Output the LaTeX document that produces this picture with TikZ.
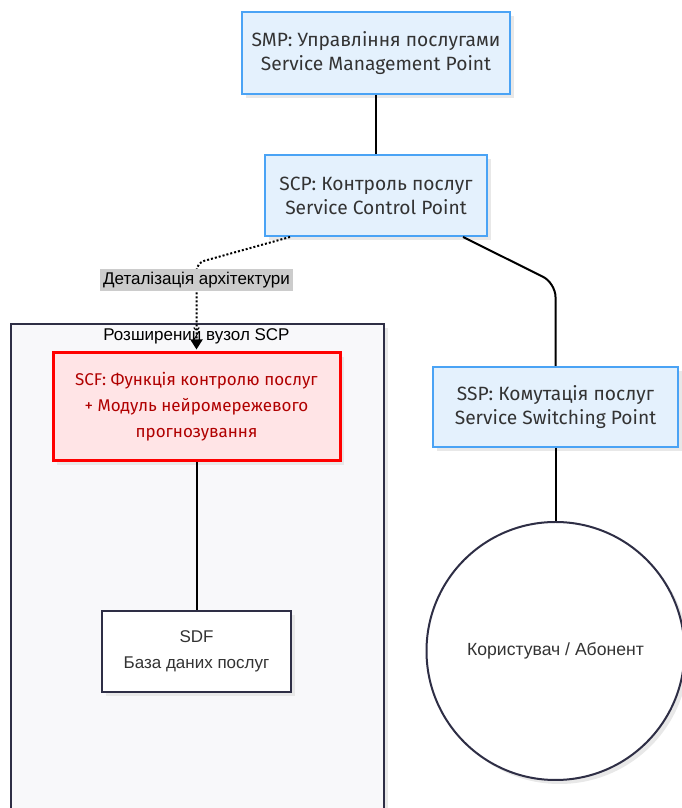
\documentclass[tikz,border=0pt]{standalone}
\usepackage{fontspec}
\setmainfont{Liberation Sans}
\newfontfamily\boxfont{Fira Sans}
\usetikzlibrary{arrows.meta,shadows}

\definecolor{bluefill}{HTML}{E4F1FD}
\definecolor{blueline}{HTML}{4AA3F5}
\definecolor{redfill}{HTML}{FFE4E6}
\definecolor{redline}{HTML}{FF0000}
\definecolor{redtext}{HTML}{B00000}
\definecolor{darkline}{HTML}{2E2E45}
\definecolor{clusterfill}{HTML}{F8F8FA}
\definecolor{nodetext}{HTML}{333333}

\begin{document}
\begin{tikzpicture}[x=1pt,y=1pt,
  softshadow/.style={drop shadow={shadow xshift=4pt,shadow yshift=-4pt,fill=black!9,opacity=1}},
  pointbox/.style={draw=blueline,line width=2pt,fill=bluefill,text=nodetext,align=center,
    inner sep=0pt,softshadow,font=\boxfont\fontsize{19.2}{24}\selectfont},
  scfbox/.style={draw=redline,line width=3pt,fill=redfill,text=redtext,align=center,
    inner sep=0pt,softshadow,font=\boxfont\fontsize{17}{26}\selectfont},
  sdfbox/.style={draw=darkline,line width=2pt,fill=white,text=nodetext,align=center,
    inner sep=0pt,softshadow,font=\fontsize{17}{26}\selectfont},
  userbox/.style={circle,draw=darkline,line width=2pt,fill=white,text=nodetext,
    inner sep=0pt,softshadow,font=\fontsize{17.6}{20}\selectfont},
  clusterbox/.style={draw=darkline,line width=2pt,fill=clusterfill,softshadow},
  conn/.style={draw=black,line width=2pt},
  detail/.style={draw=black,line width=2pt,dash pattern=on 2pt off 2pt,
    -{Triangle[length=10pt,width=12pt]}},
  lbl/.style={fill=black!20,inner sep=3pt,font=\fontsize{17}{18}\selectfont}]

\clip (0,0) rectangle (682,808);
\useasboundingbox (0,0) rectangle (682,808);


%extended SCP node (cluster)
\node[clusterbox,anchor=north west,minimum width=373pt,minimum height=500pt] (ext) at (10,485) {};
\node[font=\fontsize{17}{18}\selectfont] (exttitle) at (196.5,472) {Розширений вузол SCP};


%top chain
\node[pointbox,minimum width=268pt,minimum height=82pt] (smp) at (376,755)
  {SMP: Управління послугами\\Service Management Point};
\node[pointbox,minimum width=222pt,minimum height=81pt] (scp) at (376,612.5)
  {SCP: Контроль послуг\\Service Control Point};


%inside the cluster
\node[scfbox,minimum width=287pt,minimum height=108pt] (scf) at (196.5,401)
  {SCF: Функція контролю послуг\\+ Модуль нейромережевого\\прогнозування};
\node[sdfbox,minimum width=189pt,minimum height=81pt] (sdf) at (196.5,156.5)
  {SDF\\База даних послуг};


%switching side
\node[pointbox,minimum width=245pt,minimum height=80pt] (ssp) at (555.5,401)
  {SSP: Комутація послуг\\Service Switching Point};
\node[userbox,minimum size=258pt] (user) at (555.5,157) {Користувач / Абонент};


%connectors
\coordinate (turn) at (555.5,525);
\coordinate (drop) at (196.5,545);
\draw[conn] (smp) -- (scp);
\draw[conn,rounded corners=14pt] ([xshift=87pt]scp.south) -- (turn) -- (ssp.north);
\draw[conn] (ssp) -- (user);
\draw[conn] (scf) -- (sdf);


%dotted detail link with its label
\draw[detail,rounded corners=8pt,shorten >=2pt] ([xshift=-86pt]scp.south) -- (drop) -- (scf.north);
\node[lbl] (detlbl) at (196.5,528) {Деталізація архітектури};
\end{tikzpicture}
\end{document}
